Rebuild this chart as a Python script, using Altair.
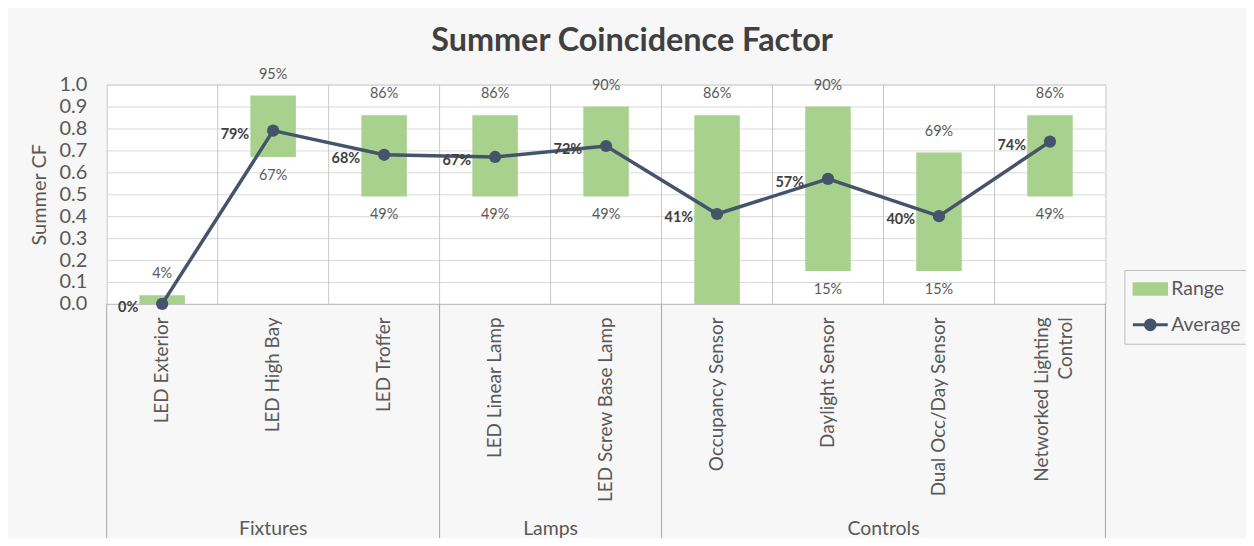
import altair as alt
import pandas as pd

# ---------------- data ----------------
categories = ["LED Exterior", "LED High Bay", "LED Troffer",
              "LED Linear Lamp", "LED Screw Base Lamp",
              "Occupancy Sensor", "Daylight Sensor", "Dual Occ/Day Sensor",
              "Networked Lighting Control"]
groups = ["Fixtures", "Fixtures", "Fixtures",
          "Lamps", "Lamps",
          "Controls", "Controls", "Controls", "Controls"]
range_low = [0.00, 0.67, 0.49, 0.49, 0.49, 0.00, 0.15, 0.15, 0.49]
range_high = [0.04, 0.95, 0.86, 0.86, 0.90, 0.86, 0.90, 0.69, 0.86]
average = [0.00, 0.79, 0.68, 0.67, 0.72, 0.41, 0.57, 0.40, 0.74]
y_ticks = [0.0, 0.1, 0.2, 0.3, 0.4, 0.5, 0.6, 0.7, 0.8, 0.9, 1.0]
series_names = ["Range", "Average"]

GREEN = "#a9d18e"
NAVY = "#44546a"
TEXT = "#595959"
DARK = "#404040"
FONT = "Lato"
MAXLEN = 20

df = pd.DataFrame({
    "category": categories, "group": groups,
    "low": range_low, "high": range_high, "avg": average,
    "idx": list(range(len(categories))),
})

group_names = list(dict.fromkeys(groups))
g_starts = [groups.index(g) for g in group_names]
g_counts = [groups.count(g) for g in group_names]
gdf = pd.DataFrame({"group": group_names,
                    "center": [s + c / 2 for s, c in zip(g_starts, g_counts)]})
bdf = pd.DataFrame({"pos": g_starts + [len(categories)]})

# split long category names onto two lines
def split_label(s, maxlen=MAXLEN):
    if len(s) <= maxlen:
        return None
    cut = s.rfind(" ")
    return [s[:cut], s[cut + 1:]]

label_expr = "datum.label"
for c in categories:
    parts = split_label(c)
    if parts:
        label_expr = f"datum.label == '{c}' ? ['{parts[0]}', '{parts[1]}'] : ({label_expr})"

# ---------------- encodings ----------------
x_scale = alt.Scale(domain=categories, paddingInner=0, paddingOuter=0)
x_axis = alt.Axis(title=None, labelAngle=-90, labelFontSize=19, labelFont=FONT,
                  labelColor=TEXT, labelPadding=13, ticks=False,
                  domainColor="#bfbfbf", labelExpr=label_expr, labelLimit=400,
                  labelLineHeight=24, grid=False,
                  labelOffset=alt.ConditionalAxisNumber(
                      condition={"test": f"length(datum.label) > {MAXLEN}", "value": -8},
                      value=0))
x_enc = alt.X("category:N", sort=categories, scale=x_scale, axis=x_axis)

y_scale = alt.Scale(domain=[0, 1], nice=False)
y_axis = alt.Axis(title="Summer CF", values=y_ticks, format=".1f",
                  labelFontSize=20, labelColor=TEXT, labelFont=FONT,
                  titleFont=FONT, titleFontSize=20, titleFontWeight="normal",
                  titleColor=TEXT, grid=True, gridColor="#d9d9d9", ticks=False,
                  domain=False, labelPadding=20, titlePadding=9)

def Y(field):
    return alt.Y(f"{field}:Q", scale=y_scale, axis=y_axis)

sym_expr = (f"datum.value == '{series_names[0]}' ? "
            "'M-0.93,-0.3H0.93V0.3H-0.93Z' : "
            "'M-1,0H1M-0.28,0A0.28,0.28,0,1,1,0.28,0A0.28,0.28,0,1,1,-0.28,0Z'")

color_enc = alt.Color(
    "series:N",
    scale=alt.Scale(domain=series_names, range=[GREEN, NAVY]),
    legend=alt.Legend(title=None, orient="none", legendX=1021, legendY=186,
                      labelFontSize=19.5, labelFont=FONT, labelColor=TEXT,
                      symbolType={"expr": sym_expr}, symbolSize=1225,
                      symbolStrokeWidth=3, strokeColor="#bfbfbf",
                      clipHeight=24, padding=7, rowPadding=12, labelOffset=2),
)

base = alt.Chart(df).encode(x=x_enc)

seps = base.transform_filter("datum.idx > 0").mark_rule(
    color="#c8c8c8", strokeWidth=1).encode(
    x=alt.X("category:N", sort=categories, scale=x_scale, axis=x_axis, bandPosition=0),
    y=alt.datum(0, scale=y_scale, axis=y_axis), y2=alt.datum(1))

bars = base.transform_calculate(series=f"'{series_names[0]}'").mark_bar(
    width=alt.RelativeBandSize(0.41)).encode(
    y=Y("low"), y2="high:Q", color=color_enc)

line = base.transform_calculate(series=f"'{series_names[1]}'").mark_line(
    strokeWidth=3.5).encode(y=Y("avg"), color=color_enc)

points = base.transform_calculate(series=f"'{series_names[1]}'").mark_point(
    filled=True, size=150, opacity=1).encode(y=Y("avg"), color=color_enc)

hi_lbl = base.mark_text(dy=-21, fontSize=14.5, font=FONT, color=TEXT).encode(
    y=Y("high"), text=alt.Text("high:Q", format=".0%"))

lo_lbl = base.transform_filter("datum.low > 0").mark_text(
    dy=19, fontSize=14.5, font=FONT, color=TEXT).encode(
    y=Y("low"), text=alt.Text("low:Q", format=".0%"))

avg_lbl = base.mark_text(align="right", dx=-24, dy=4, fontSize=14.5, font=FONT,
                         fontWeight="bold", color=DARK).encode(
    y=Y("avg"), text=alt.Text("avg:Q", format=".0%"))

inner = alt.layer(seps, bars, line, points, hi_lbl, lo_lbl, avg_lbl)

gx_scale = alt.Scale(domain=[0, len(categories)], nice=False, zero=False)
grp_rules = alt.Chart(bdf).mark_rule(color="#a6a6a6", strokeWidth=1).encode(
    x=alt.X("pos:Q", scale=gx_scale, axis=None),
    y=alt.value(220), y2=alt.value(456))
grp_text = alt.Chart(gdf).mark_text(fontSize=19.5, font=FONT, color=TEXT,
                                    baseline="middle").encode(
    x=alt.X("center:Q", scale=gx_scale, axis=None),
    y=alt.value(446), text="group:N")

chart = alt.layer(inner, grp_rules, grp_text).resolve_scale(
    x="independent"
).properties(
    width=1002, height=220,
    title=alt.TitleParams("Summer Coincidence Factor", fontSize=32.5, font=FONT,
                          fontWeight="bold", color=DARK, anchor="middle",
                          dx=26, offset=9),
    padding={"left": 99, "top": 76, "right": 141, "bottom": 234},
    autosize=alt.AutoSizeParams(type="none"),
).configure(
    background="#f7f7f7"
).configure_view(
    fill="white", stroke="#c8c8c8"
)

chart.save("out.html", embed_options={"renderer": "svg", "actions": False})
